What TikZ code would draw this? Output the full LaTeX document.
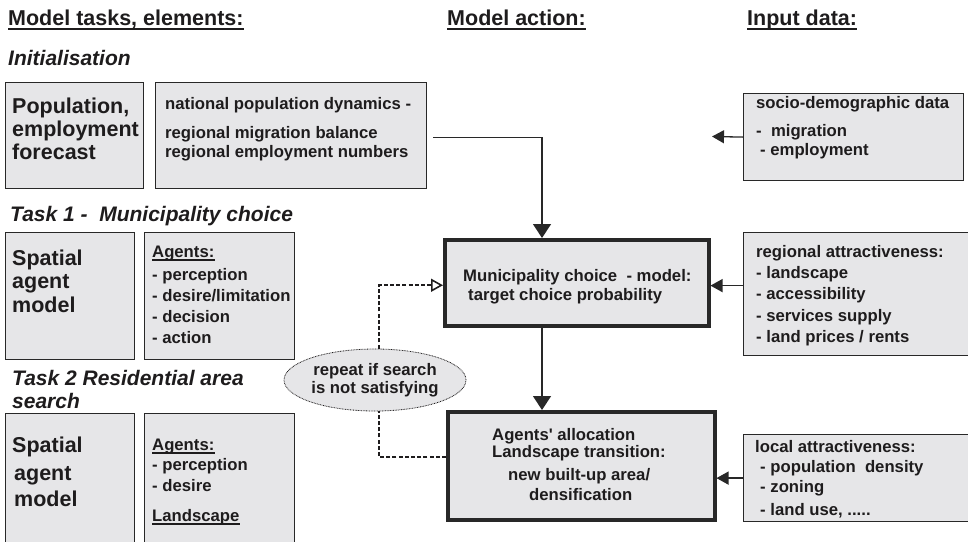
\documentclass[tikz,border=0pt]{standalone}
\usepackage{fontspec}
\setmainfont{Liberation Sans}
\usetikzlibrary{arrows.meta,shapes.geometric}
\definecolor{tc}{RGB}{30,28,29}
\definecolor{fillc}{RGB}{230,230,232}
\definecolor{linec}{RGB}{40,40,40}
\begin{document}
\begin{tikzpicture}[x=1pt,y=-1pt,
  panel/.style={draw=linec, line width=1.2pt, fill=fillc, rectangle, inner sep=0pt, anchor=north west},
  heavy panel/.style={panel, line width=3.5pt},
  head/.style={font=\fontsize{21.5}{24}\selectfont\bfseries, text=tc, anchor=base west, inner sep=0pt},
  ihead/.style={font=\fontsize{21}{24}\selectfont\bfseries\itshape, text=tc, anchor=base west, inner sep=0pt},
  big/.style={font=\fontsize{21.5}{24}\selectfont\bfseries, text=tc, anchor=base west, inner sep=0pt},
  txt/.style={font=\fontsize{16.7}{20}\selectfont\bfseries, text=tc, anchor=base west, inner sep=0pt},
  ctxt/.style={txt, anchor=base},
  arr/.style={draw=linec, line width=1.3pt, -{Triangle[length=12pt,width=13pt]}},
  varr/.style={draw=linec, line width=1.3pt, -{Triangle[length=14pt,width=18pt]}},
  dsh/.style={draw=tc, line width=1.6pt, dash pattern=on 4pt off 2.2pt},
  uline/.style={draw=tc, line width=2pt},
  suline/.style={draw=tc, line width=1.3pt},
]
\useasboundingbox (0,0) rectangle (968,541);

% headings
\node[head] (h1) at (8,25) {Model tasks, elements:};
\node[head] (h2) at (447,25) {Model action:};
\node[head] (h3) at (747,25) {Input data:};
\draw[uline] ([yshift=-3.5pt]h1.base west) -- ([yshift=-3.5pt]h1.base east);
\draw[uline] ([yshift=-3.5pt]h2.base west) -- ([yshift=-3.5pt]h2.base east);
\draw[uline] ([yshift=-3.5pt]h3.base west) -- ([yshift=-3.5pt]h3.base east);

\node[ihead] (init) at (8,65) {Initialisation};
\node[ihead] (task1) at (10,221) {Task 1 -~~Municipality choice};
\node[ihead] (task2a) at (12,385) {Task 2 Residential area};
\node[ihead] (task2b) at (12,408) {search};

% panels
\node[panel, minimum width=138pt, minimum height=106pt] (boxA) at (5,82) {};
\node[panel, minimum width=271pt, minimum height=106pt] (boxB) at (155,82) {};
\node[panel, minimum width=220pt, minimum height=87pt] (socio) at (743,93) {};
\node[panel, minimum width=129pt, minimum height=127pt] (sp1) at (5,232) {};
\node[panel, minimum width=150pt, minimum height=127pt] (ag1) at (144,232) {};
\node[panel, minimum width=129pt, minimum height=140pt] (sp2) at (5,413) {};
\node[panel, minimum width=150pt, minimum height=140pt] (ag2) at (144,413) {};
\node[heavy panel, minimum width=264pt, minimum height=86pt] (muni) at (443,238) {};
\node[heavy panel, minimum width=267pt, minimum height=108pt] (alloc) at (446,410) {};
\node[panel, minimum width=235pt, minimum height=123pt] (regional) at (743,232) {};
\node[panel, minimum width=235pt, minimum height=87pt] (local) at (743,434) {};
\node[ellipse, draw=tc, line width=0.8pt, dash pattern=on 0.8pt off 0.8pt, fill=fillc,
      minimum width=182pt, minimum height=62pt, inner sep=0pt] (rep) at (375,380) {};

% texts
\node[big] (a1) at (12,113) {Population,};
\node[big] (a2) at (12,136) {employment};
\node[big] (a3) at (12,159) {forecast};

\node[txt] (b1) at (165,109) {national population dynamics -};
\node[txt] (b2) at (165,138) {regional migration balance};
\node[txt] (b3) at (165,157) {regional employment numbers};

\node[txt] (s1) at (756,108) {socio-demographic data};
\node[txt] (s2) at (756,136) {-~~migration};
\node[txt] (s3) at (760,155) {- employment};

\node[big] (p11) at (12,265) {Spatial};
\node[big] (p12) at (12,288) {agent};
\node[big] (p13) at (12,312) {model};

\node[txt] (g11) at (152,257) {Agents:};
\draw[suline] ([yshift=-3pt]g11.base west) -- ([yshift=-3pt]g11.base east);
\node[txt] (g12) at (152,280) {- perception};
\node[txt] (g13) at (152,301) {- desire/limitation};
\node[txt] (g14) at (152,322) {- decision};
\node[txt] (g15) at (152,343) {- action};

\node[big] (p21) at (12,452) {Spatial};
\node[big] (p22) at (14,480) {agent};
\node[big] (p23) at (14,506) {model};

\node[txt] (g21) at (152,450) {Agents:};
\draw[suline] ([yshift=-3pt]g21.base west) -- ([yshift=-3pt]g21.base east);
\node[txt] (g22) at (152,470) {- perception};
\node[txt] (g23) at (152,491) {- desire};
\node[txt] (g24) at (152,521) {Landscape};
\draw[suline] ([yshift=-3pt]g24.base west) -- ([yshift=-3pt]g24.base east);

\node[txt] (m1) at (463,281) {Municipality choice~~- model:};
\node[txt] (m2) at (468,300) {target choice probability};

\node[txt] (l1) at (492,440) {Agents\textquotesingle{} allocation};
\node[txt] (l2) at (492,457) {Landscape transition:};
\node[txt] (l3) at (508,480) {new built-up area/};
\node[txt] (l4) at (529,500) {densification};

\node[ctxt] (r1) at (375,375) {repeat if search};
\node[ctxt] (r2) at (375,393) {is not satisfying};

\node[txt] (ra1) at (756,257) {regional attractiveness:};
\node[txt] (ra2) at (756,278) {- landscape};
\node[txt] (ra3) at (756,299) {- accessibility};
\node[txt] (ra4) at (756,321) {- services supply};
\node[txt] (ra5) at (756,342) {- land prices / rents};

\node[txt] (la1) at (755,452) {local attractiveness:};
\node[txt] (la2) at (760,472) {- population~~density};
\node[txt] (la3) at (760,492) {- zoning};
\node[txt] (la4) at (760,515) {- land use, .....};

% connectors
\coordinate (xa) at (542,0);
\coordinate (sociotip) at (712,136.5);
\draw[varr] ([xshift=6pt,yshift=-2pt]boxB.east) -| (muni.north -| xa);
\draw[varr] (muni.south -| xa) -- (alloc.north -| xa);
\draw[arr] (socio.west) -- (sociotip);
\draw[arr] ([yshift=8.5pt]regional.west) coordinate (rg) -- (muni.east |- rg);
\draw[arr] (local.west) -- (alloc.east |- local.west);
\draw[dsh] ([yshift=8.5pt]alloc.west) -| ([xshift=4pt]rep.south);
\draw[dsh, -{Triangle[open,length=12pt,width=13pt,line width=1.6pt]}] ([xshift=4pt]rep.north) |- ([yshift=-2.5pt]muni.west);
\end{tikzpicture}
\end{document}
